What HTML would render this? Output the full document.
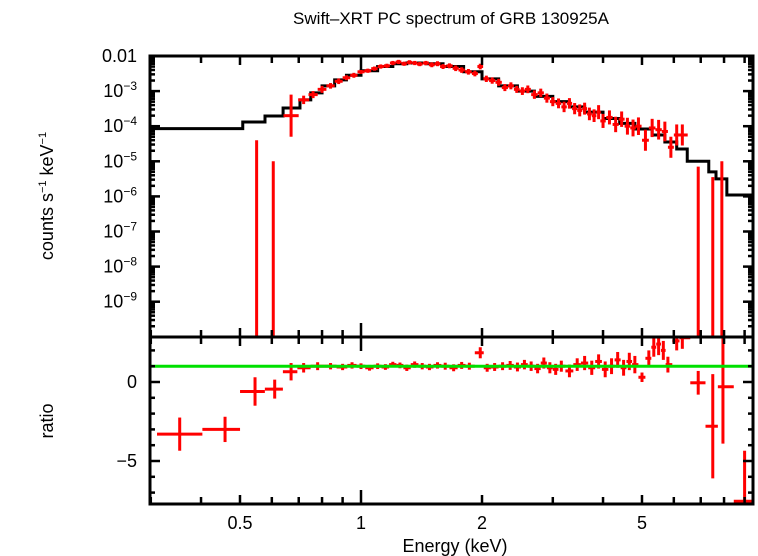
<!DOCTYPE html>
<html><head><meta charset="utf-8"><style>
html,body{margin:0;padding:0;background:#fff;}
svg{display:block;font-family:"Liberation Sans",sans-serif;}
</style></head><body>
<svg id="chart" width="758" height="556" viewBox="0 0 758 556" xmlns="http://www.w3.org/2000/svg">
<text x="451" y="24" font-size="17" text-anchor="middle">Swift–XRT PC spectrum of GRB 130925A</text>
<text transform="translate(53,196) rotate(-90)" font-size="18" text-anchor="middle">counts s<tspan font-size="11" dy="-7">−1</tspan><tspan dy="7"> keV</tspan><tspan font-size="11" dy="-7">−1</tspan></text>
<text transform="translate(53,421) rotate(-90)" font-size="18" text-anchor="middle">ratio</text>
<text x="455" y="552" font-size="18" text-anchor="middle">Energy (keV)</text>
<g id="marks"></g>
<g id="axes"></g>
</svg>
<script>
// model: bin edges (keV) and log10 counts per bin
const modelEdges=[0.3,0.508,0.577,0.64,0.705,0.75,0.80,0.86,0.92,1.0,1.1,1.2,1.3,1.45,1.6,1.8,2.0,2.2,2.45,2.7,3.0,3.3,3.6,4.0,4.4,4.8,5.3,5.7,6.1,6.48,7.33,7.64,8.13,9.5];
const modelLog=[-4.07,-3.88,-3.71,-3.48,-3.25,-3.05,-2.85,-2.68,-2.55,-2.42,-2.3,-2.22,-2.2,-2.22,-2.3,-2.45,-2.65,-2.85,-3.0,-3.15,-3.3,-3.45,-3.6,-3.78,-3.92,-4.08,-4.25,-4.45,-4.65,-5.0,-5.3,-5.5,-5.96];
// data: energies, log10 counts, error (dex)
const dataE=[0.55,0.605,0.67,0.72,0.76,0.80,0.84,0.88,0.92,0.96,1.0,1.04,1.08,1.12,1.16,1.2,1.24,1.28,1.32,1.36,1.4,1.45,1.5,1.55,1.6,1.66,1.72,1.78,1.85,1.92,1.98,2.05,2.12,2.2,2.28,2.36,2.44,2.52,2.6,2.7,2.8,2.9,3.0,3.1,3.2,3.3,3.4,3.5,3.6,3.7,3.8,3.9,4.0,4.15,4.3,4.45,4.6,4.75,4.9,5.1,5.3,5.5,5.7,5.9,6.1,6.3,6.9,7.5,7.9];
const dataLog=[-12,-12,-3.7,-3.25,-3.1,-2.95,-2.85,-2.72,-2.62,-2.55,-2.45,-2.42,-2.36,-2.3,-2.28,-2.2,-2.17,-2.22,-2.18,-2.2,-2.23,-2.2,-2.25,-2.22,-2.3,-2.28,-2.35,-2.4,-2.45,-2.5,-2.3,-2.65,-2.7,-2.75,-2.9,-2.85,-2.95,-3.0,-2.95,-3.1,-3.05,-3.2,-3.3,-3.35,-3.45,-3.35,-3.5,-3.55,-3.5,-3.65,-3.7,-3.6,-3.85,-3.75,-3.95,-3.8,-4.0,-4.05,-4.0,-4.4,-4.05,-4.1,-4.15,-4.6,-4.25,-4.25,-12,-12,-12];
const dataErr=[7.6,7.0,0.6,0.12,0.1,0.1,0.08,0.08,0.07,0.07,0.06,0.06,0.06,0.06,0.06,0.06,0.06,0.06,0.06,0.06,0.06,0.06,0.07,0.07,0.07,0.07,0.08,0.08,0.08,0.08,0.08,0.09,0.09,0.1,0.1,0.1,0.1,0.11,0.11,0.12,0.12,0.13,0.13,0.14,0.15,0.15,0.16,0.17,0.17,0.18,0.18,0.2,0.2,0.2,0.22,0.22,0.24,0.24,0.25,0.3,0.26,0.28,0.28,0.3,0.3,0.3,6.85,6.55,7.0];
// ratio panel
const ratioE=[0.354,0.459,0.545,0.61,0.67,0.72,0.78,0.84,0.9,0.95,1.0,1.05,1.1,1.15,1.2,1.25,1.3,1.36,1.42,1.48,1.55,1.62,1.7,1.78,1.86,1.98,2.06,2.15,2.25,2.35,2.45,2.55,2.65,2.75,2.85,2.95,3.05,3.15,3.3,3.45,3.6,3.75,3.9,4.05,4.2,4.35,4.5,4.65,4.8,5.0,5.2,5.35,5.5,5.65,5.8,6.1,6.3,6.9,7.5,7.95,9.0];
const ratioVal=[-3.3,-3.0,-0.6,-0.45,0.65,0.9,1.0,1.0,0.95,1.05,1.0,0.9,1.0,0.95,1.1,1.05,0.9,1.1,1.0,0.95,1.05,1.0,0.9,1.05,1.0,1.85,0.9,0.95,1.0,1.05,0.95,1.1,1.0,0.85,1.2,0.9,0.8,1.0,0.7,1.1,1.2,0.9,1.3,0.8,1.0,1.4,0.9,1.3,1.1,0.3,1.5,2.2,2.4,2.0,1.1,2.6,2.8,-0.05,-2.8,-0.3,-7.55];
const ratioErr=[1.05,0.8,0.9,0.6,0.55,0.3,0.25,0.2,0.2,0.2,0.18,0.18,0.18,0.18,0.18,0.18,0.2,0.2,0.2,0.2,0.2,0.22,0.22,0.22,0.22,0.35,0.25,0.25,0.25,0.28,0.28,0.3,0.3,0.3,0.35,0.35,0.35,0.35,0.4,0.4,0.45,0.45,0.45,0.5,0.5,0.5,0.5,0.55,0.55,0.3,0.5,0.6,0.7,0.6,0.5,0.6,0.7,0.75,3.3,3.6,3.2];
const xTickLabels=["0.5","1","2","5"];
const xTickVals=[0.5,1,2,5];
const yTopLabelExp=[-3,-4,-5,-6,-7,-8,-9];
const ratioTickVals=[0,-5];

const L=150,R=753,T1=56,B1=337,T2=337,B2=504;
const xs=e=>361+402*Math.log10(e);
const yTop=lg=>T1+35.1*(-2-lg);
const yRat=v=>382-15.8*v;
const clamp=(v,a,b)=>Math.max(a,Math.min(b,v));
const NS="http://www.w3.org/2000/svg";
const marks=document.getElementById('marks'), axes=document.getElementById('axes');
function mk(tag,attrs,parent){const el=document.createElementNS(NS,tag);for(const k in attrs)el.setAttribute(k,attrs[k]);parent.appendChild(el);return el;}
function ln(x1,y1,x2,y2,stroke,w,parent){return mk('line',{x1,y1,x2,y2,stroke,'stroke-width':w},parent);}

let d='';
for(let i=0;i<modelLog.length;i++){
  const x1=clamp(xs(modelEdges[i]),L,R),x2=clamp(xs(modelEdges[i+1]),L,R),y=yTop(modelLog[i]);
  d+=(i===0?'M':'L')+x1+','+y+'L'+x2+','+y;
}
const mp=mk('path',{d,fill:'none',stroke:'#000','stroke-width':3},marks);



function halfW(arr,i){
  const lg=Math.log10(arr[i]);
  const lo=i>0?(lg+Math.log10(arr[i-1]))/2:lg-(Math.log10(arr[i+1])-lg)/2;
  const hi=i<arr.length-1?(lg+Math.log10(arr[i+1]))/2:lg+(lg-Math.log10(arr[i-1]))/2;
  return [Math.pow(10,lo),Math.pow(10,hi)];
}
for(let i=0;i<dataE.length;i++){
  const g=mk('g',{},marks);
  
  
  const x=xs(dataE[i]);
  const ya=clamp(yTop(dataLog[i]+dataErr[i]),T1,B1), yb=clamp(yTop(dataLog[i]-dataErr[i]),T1,B1);
  ln(x,ya,x,yb,'#f00',3,g);
  const y=yTop(dataLog[i]);
  if(y<B1){const [a,b]=halfW(dataE,i);const w=Math.min(xs(b)-xs(a),20);ln(x-w/2,y,x+w/2,y,'#f00',3,g);}
}
for(let i=0;i<ratioE.length;i++){
  const g=mk('g',{},marks);
  
  
  const x=xs(ratioE[i]);
  const ya=clamp(yRat(ratioVal[i]+ratioErr[i]),T2,B2), yb=clamp(yRat(ratioVal[i]-ratioErr[i]),T2,B2);
  ln(x,ya,x,yb,'#f00',3,g);
  const y=yRat(ratioVal[i]);
  if(y>T2&&y<=B2){const [a,b]=halfW(ratioE,i);ln(clamp(xs(a),L,R),y,clamp(xs(b),L,R),y,'#f00',3,g);}
}
const gl=ln(L,yRat(1),R,yRat(1),'#00e000',3,marks);



const f1=mk('rect',{x:L,y:T1,width:R-L,height:B1-T1,fill:'none',stroke:'#000','stroke-width':3},axes);


const f2=mk('rect',{x:L,y:T2,width:R-L,height:B2-T2,fill:'none',stroke:'#000','stroke-width':3},axes);



const xt=[];
for(let k=3;k<=9;k++)xt.push(k/10);
for(let k=1;k<=9;k++)xt.push(k);
xt.forEach(e=>{
  const x=xs(e); if(x<L||x>R)return;
  const len=(e===1)?14:(e===0.5||e===2||e===5?9:7);
  [T1,B1,T2,B2].forEach((yy,j)=>{
    const dir=(j%2===0)?1:-1;
    ln(x,yy,x,yy+dir*len,'#000',2.5,axes);
  });
});
for(let i=0;i<xTickVals.length;i++){
  const t=mk('text',{x:xs(xTickVals[i]),y:529,'font-size':18,'text-anchor':'middle'},axes);
  t.textContent=xTickLabels[i];
  
  
}
for(let dec=-10;dec<-2;dec++){
  for(let m=1;m<=9;m++){
    const lg=dec+Math.log10(m);const y=yTop(lg);if(y<T1-0.5||y>B1+0.5)continue;
    const len=m===1?10:5;
    ln(L,y,L+len,y,'#000',2.5,axes);ln(R,y,R-len,y,'#000',2.5,axes);
  }
}
{const t=mk('text',{x:137,y:T1+6,'font-size':18,'text-anchor':'end'},axes);t.textContent='0.01';

}
yTopLabelExp.forEach(ex=>{
  const t=mk('text',{x:137,y:yTop(ex)+6,'font-size':18,'text-anchor':'end'},axes);
  
  
  t.innerHTML='10<tspan font-size="12" dy="-7">−'+(-ex)+'</tspan>';
});
for(let v=-7;v<=2;v++){
  const y=yRat(v);const len=(v%5===0)?10:5;
  ln(L,y,L+len,y,'#000',2.5,axes);ln(R,y,R-len,y,'#000',2.5,axes);
}
ratioTickVals.forEach(v=>{
  const t=mk('text',{x:137,y:yRat(v)+6,'font-size':18,'text-anchor':'end'},axes);
  t.textContent=v<0?'−'+(-v):String(v);
  
  
});
</script>
</body></html>
